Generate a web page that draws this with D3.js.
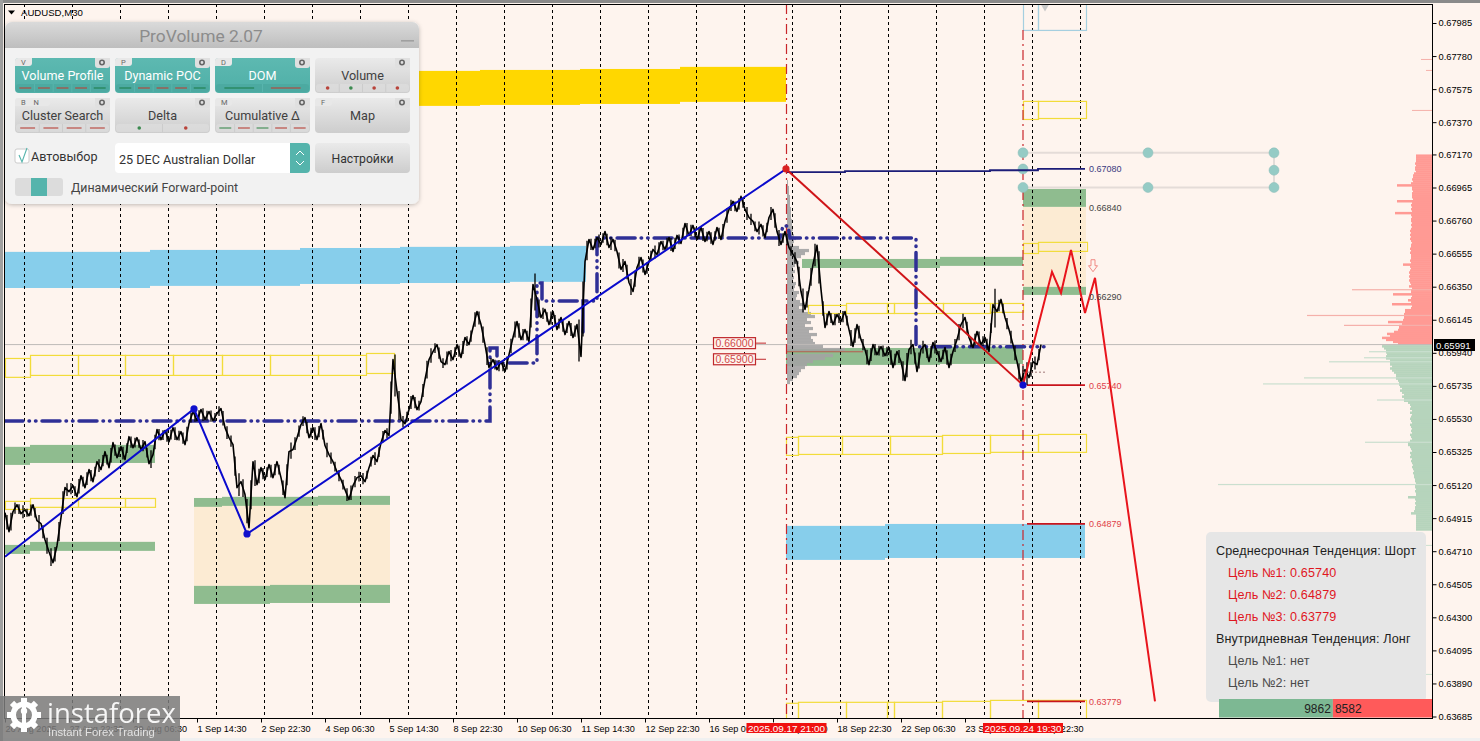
<!DOCTYPE html>
<html><head><meta charset="utf-8">
<script src="https://cdn.jsdelivr.net/npm/d3@7"></script>
<style>html,body{margin:0;padding:0;background:#FEF4EE;overflow:hidden}svg{display:block}text{font-family:"Liberation Sans",Arial,sans-serif}</style>
</head><body><div id="chart"></div>
<script>
// ---------- DATA (prices in points, 1 point = 0.00001; time in M30 bars from the left edge) ----------
const priceTicks=[0.67985,0.67780,0.67575,0.67370,0.67170,0.66965,0.66760,0.66555,0.66350,0.66145,0.65940,0.65735,0.65530,0.65325,0.65120,0.64915,0.64710,0.64505,0.64300,0.64095,0.63890,0.63685];
const timeTickLabels=["26 Aug 2025","27 Aug 22:30","29 Aug 06:30","1 Sep 14:30","2 Sep 22:30","4 Sep 06:30","5 Sep 14:30","8 Sep 22:30","10 Sep 06:30","11 Sep 14:30","12 Sep 22:30","16 Sep 06:30","17 Sep 14:30","18 Sep 22:30","22 Sep 06:30","23 Sep 14:30","24 Sep 22:30"];
const currentPrice=65991;
const closeEvery4Bars=[64949,64831,64955,64998,64943,64967,64930,64998,64899,64881,64781,64707,64639,64744,64918,65104,65079,65116,65048,65178,65104,65216,65141,65265,65216,65327,65228,65383,65290,65358,65278,65420,65352,65414,65340,65389,65253,65309,65464,65402,65458,65389,65476,65402,65451,65371,65501,65576,65520,65588,65526,65576,65520,65563,65594,65476,65414,65371,65104,65141,65061,64856,65265,65123,65228,65154,65247,65166,65265,65166,65042,65327,65340,65414,65495,65538,65414,65476,65402,65501,65365,65309,65265,65203,65154,65092,65030,65116,65166,65178,65141,65228,65303,65265,65383,65458,65427,65898,65700,65526,65501,65588,65675,65588,65638,65774,65898,65948,65991,65886,65867,65948,65898,65991,65911,66035,65991,66097,66196,66115,65991,65849,65898,65836,65886,65824,65929,66035,66134,66022,66084,66010,66364,66271,66159,66209,66115,66196,66084,66159,66053,66134,66035,66115,65917,66506,66643,66581,66655,66612,66692,66593,66643,66568,66457,66506,66376,66320,66469,66531,66426,66506,66581,66550,66630,66581,66655,66568,66668,66618,66742,66668,66730,66643,66717,66630,66692,66612,66717,66643,66755,66829,66879,66817,66910,66829,66779,66755,66692,66736,66655,66779,66829,66692,66612,66692,66593,66550,66506,66320,66209,66333,66488,66606,66333,66097,66196,66115,66177,66134,66196,66084,65979,66115,66022,65960,65867,65991,65929,65979,65923,65973,65849,65948,65886,65768,65960,65991,65824,65960,65991,65886,66004,65948,65886,65973,65849,65948,66022,66115,66159,66035,65973,66072,65991,66035,65948,66239,66196,66271,66159,66084,65991,65886,65762,65836,65786,65886,65867,65991];
const swingSpanEvery4Bars=[90,110,70,60,80,50,70,60,90,80,100,110,90,120,140,80,70,60,90,60,80,70,60,80,70,60,90,70,60,80,60,70,60,50,70,60,110,90,70,60,70,60,80,60,70,90,60,70,60,80,60,70,50,60,90,80,70,120,140,110,150,180,160,90,70,60,80,70,60,90,130,100,80,70,60,70,60,80,70,60,90,70,60,70,60,80,90,70,60,70,50,60,80,60,70,60,200,260,180,70,60,80,70,60,80,110,90,60,70,60,80,70,60,70,80,60,70,90,80,100,110,70,60,70,60,80,90,100,90,70,60,180,230,110,70,60,80,70,60,70,60,80,70,260,340,120,70,60,80,60,70,80,70,100,80,90,100,90,70,80,70,60,80,70,60,70,80,70,60,70,80,70,60,70,80,60,70,60,70,80,90,70,60,70,60,80,70,60,80,70,60,80,90,100,60,70,60,70,120,150,100,110,140,200,90,70,60,70,60,70,60,100,90,80,70,90,80,70,60,70,60,90,70,80,120,150,90,70,100,80,60,70,80,70,60,90,70,80,100,90,70,60,70,80,60,70,60,240,70,60,70,80,90,100,120,140,90,80,70,60,120];
const zonesGold=[[410,475,67688,67471],[475,575,67694,67477],[575,675,67700,67483],[675,781,67713,67496]];
const zonesSky=[[0,145,66566,66342],[145,295,66578,66355],[295,395,66590,66367],[395,505,66597,66373],[505,581,66603,66380],[781,880,64867,64656],[880,1080,64879,64668]];
const zonesTan=[[189,385,64997,64495],[1018,1081,66845,66349]];
const zonesGreen=[[0,25,65357,65245],[25,150,65369,65257],[0,25,64749,64693],[25,150,64768,64712],[189,217,65040,64985],[217,313,65047,64991],[313,385,65053,64997],[189,265,64495,64383],[265,385,64501,64389],[797,935,66522,66466],[935,1018,66535,66479],[781,835,65964,65859],[835,935,65970,65865],[935,1018,65977,65871],[1018,1081,66956,66845],[1018,1081,66349,66299]];
const boxesYellow=[[0,25,65908,65791],[25,73,65927,65803],[73,120,65927,65803],[120,168,65927,65803],[168,217,65927,65803],[217,265,65927,65803],[265,313,65927,65803],[313,361,65927,65803],[361,389,65939,65815],[0,25,65022,64972],[25,73,65040,64985],[73,120,65040,64985],[120,150,65040,64985],[803,841,66237,66187],[841,882,66249,66187],[882,889,66249,66187],[889,938,66249,66187],[938,985,66249,66187],[985,1018,66249,66194],[781,793,65419,65307],[793,837,65425,65313],[837,885,65425,65313],[885,937,65425,65313],[937,985,65431,65319],[985,1033,65431,65326],[1033,1081,65437,65326],[781,793,63770,63500],[793,841,63776,63500],[841,882,63776,63500],[882,889,63776,63500],[889,937,63776,63500],[937,985,63782,63500],[985,1033,63788,63500],[1033,1081,63788,63500],[1018,1033,67502,67390],[1033,1081,67502,67396],[1018,1033,66621,66559],[1033,1082,66628,66572]];
const boxesBlue=[[1018,1033,68200,67942],[1033,1081,68200,67942]];
const pocPath=[[0,65518],[485,65518],[485,65970],[492,65970],[492,65877],[532,65877],[532,66373],[537,66373],[537,66262],[578,66262],[578,66063],[578,66262],[592,66262],[592,66652],[775,66652],[778,66727],[783,66727],[785,66652],[911,66652],[911,65977],[1039,65977]];
const bullSwing=[[0,64675],[189,65592],[242,64817],[781,67080]];
const bearSwing=[[781,67080],[1018,65740]];
const forecast=[[1018,65740],[1047,66442],[1056,66311],[1066,66578],[1080,66187],[1090,66405],[1150,63779]];
const navyTarget=[[782,67060],[840,67066],[985,67072],[1033,67080],[1080,67080]];
const redTargets=[65740,64879,63779];
const greyLevelLabels=[[66840,"0.66840"],[66290,"0.66290"]];
const fanLevels=[67180,67080,66965];
const fanBars=[1018,1143,1269];
const sessionProfile=[1,1,2,2,2,3,3,3,3,4,4,4,4,5,5,5,6,5,7,9,7,6,12,22,18,14,10,12,8,6,8,6,7,6,9,8,7,12,10,9,13,16,12,17,24,28,20,24,18,26,22,30,24,26,28,36,58,76,46,38,26,20,18,14,12,10,6,3];
const sellProfile=[16,16,16,16,17,16,17,17,16,18,19,19,20,19,21,35,20,20,19,20,20,20,19,35,20,21,20,21,20,37,21,20,21,21,20,21,20,21,22,21,22,21,22,21,20,21,21,22,21,22,21,21,21,22,21,29,22,21,22,23,22,23,22,23,22,21,23,20,80,21,39,20,21,24,21,40,20,21,27,27,28,125,28,29,44,30,88,33,34,38,45,42,50,46,39,34];
const buyProfile=[50,48,46,63,45,46,68,42,103,42,40,42,40,38,36,36,128,34,33,169,32,30,32,30,28,30,28,55,24,22,21,22,20,22,20,21,22,21,20,22,21,20,21,20,22,21,20,22,67,24,22,21,20,22,21,22,20,21,20,19,20,19,18,19,18,18,17,17,16,214,17,16,17,16,16,24,17,16,17,16,17,17,18,21,16,16,16,16,16,16,16,16];
const strayProfile=[[67762,11,"s"],[67694,6,"s"],[67446,20,"s"],[64749,6,"b"],[63949,8,"b"]];
const buyTotal=9862, sellTotal=8582;
const infoRows=[["Среднесрочная Тенденция: Шорт",0],["Цель №1: 0.65740",1],["Цель №2: 0.64879",1],["Цель №3: 0.63779",1],["Внутридневная Тенденция: Лонг",0],["Цель №1: нет",2],["Цель №2: нет",2]];
const panelButtons=[
 ["Volume Profile",1,"V","lllll","rrrrg"],["Dynamic POC",1,"P","lllll","grrrg"],["DOM",1,"D","ll","gr"],["Volume",0,"","dddd","rgrr"],
 ["Cluster Search",0,"B N","llll","rrrr"],["Delta",0,"","dd","gr"],["Cumulative Δ",0,"M","lllll","grgrr"],["Map",0,"F","",""]];

// ---------- SCALES ----------
const W=1480,H=741;
const L=4,R=1432,T=4,B=718;
const x=d3.scaleLinear().domain([0,1427]).range([5,1432]);
const y=d3.scaleLinear().domain([67985,63685]).range([23,716.5]);
const BG="#FEF4EE";
const svg=d3.select("#chart").append("svg").attr("width",W).attr("height",H);
const defs=svg.append("defs");
defs.append("clipPath").attr("id","plot").append("rect").attr("x",L).attr("y",T).attr("width",R-L).attr("height",B-T);
function grad(id,a,b){const g=defs.append("linearGradient").attr("id",id).attr("x1",0).attr("x2",0).attr("y1",0).attr("y2",1);g.append("stop").attr("offset",0).attr("stop-color",a);g.append("stop").attr("offset",1).attr("stop-color",b);}
grad("gHead","#DADADA","#BEBEBE");grad("gBtn","#EAEAEA","#CDCDCD");grad("gTeal","#5DB9B1","#4FAFA7");
const shadow=defs.append("filter").attr("id","sh").attr("x","-5%").attr("y","-5%").attr("width","110%").attr("height","112%");
shadow.append("feDropShadow").attr("dx",0).attr("dy",1).attr("stdDeviation",2).attr("flood-color","#000").attr("flood-opacity",.25);

svg.append("rect").attr("width",W).attr("height",H).attr("fill",BG);
svg.append("rect").attr("y",738).attr("width",W).attr("height",3).attr("fill","#F0F0F0");
svg.append("rect").attr("width",W).attr("height",3).attr("fill","#8A8A8A");
svg.append("rect").attr("width",3).attr("height",H).attr("fill","#A0A0A0");

const plot=svg.append("g").attr("clip-path","url(#plot)");
function zones(data,fill){plot.append("g").selectAll("rect").data(data).join("rect")
 .attr("x",d=>x(d[0])).attr("width",d=>x(d[1])-x(d[0])).attr("y",d=>y(d[2])).attr("height",d=>y(d[3])-y(d[2])).attr("fill",fill);}
function boxes(data,stroke){plot.append("g").selectAll("rect").data(data).join("rect")
 .attr("x",d=>x(d[0])+.5).attr("width",d=>x(d[1])-x(d[0])).attr("y",d=>y(d[2])+.5).attr("height",d=>y(d[3])-y(d[2])).attr("fill","none").attr("stroke",stroke).attr("stroke-width",1.2);}
zones(zonesTan,"#FCEBD3");zones(zonesGold,"#FFD700");zones(zonesSky,"#87CEEB");zones(zonesGreen,"#8FBC8F");

// right-hand market profile
const pw=d3.scaleLinear().domain([0,214]).range([0,214]);
const sellBand=d3.scaleLinear().domain([0,sellProfile.length]).range([y(67170),y(currentPrice)]);
const buyBand=d3.scaleLinear().domain([0,buyProfile.length]).range([y(currentPrice)+.5,y(64840)]);
function profile(data,band,spike,baseCol,spikeCol){
 plot.append("g").selectAll("rect").data(data).join("rect").attr("x",d=>R-pw(d>spike?Math.min(...data):d)).attr("width",d=>pw(d>spike?Math.min(...data):d))
  .attr("y",(d,i)=>band(i)).attr("height",band(1)-band(0)+.4).attr("fill",baseCol).attr("shape-rendering","crispEdges");
 plot.append("g").selectAll("rect").data(data.filter(d=>d>spike)).join("rect").attr("x",d=>R-pw(d)).attr("width",d=>pw(d))
  .attr("y",d=>band(data.indexOf(d))).attr("height",1.2).attr("fill",spikeCol);
}
// spike rows keep a solid base from their neighbours
const sellSolid=sellProfile.map((d,i,a)=>d>52?Math.max(a[i-1]||0,a[i+1]||0):d);
const buySolid=buyProfile.map((d,i,a)=>d>52?Math.max(a[i-1]||0,a[i+1]||0):d);
plot.append("g").selectAll("rect").data(sellSolid).join("rect").attr("x",d=>R-pw(d)).attr("width",d=>pw(d)).attr("y",(d,i)=>sellBand(i)).attr("height",sellBand(1)-sellBand(0)+.5).attr("fill","#FF9A94");
plot.append("g").selectAll("rect").data(buySolid).join("rect").attr("x",d=>R-pw(d)).attr("width",d=>pw(d)).attr("y",(d,i)=>buyBand(i)).attr("height",buyBand(1)-buyBand(0)+.5).attr("fill","#B6D4BC");
plot.append("g").selectAll("rect").data(sellProfile.map((d,i)=>[d,i]).filter(d=>d[0]>52)).join("rect").attr("x",d=>R-pw(d[0])).attr("width",d=>pw(d[0])).attr("y",d=>sellBand(d[1])).attr("height",1.2).attr("fill","#F5B0AA");
plot.append("g").selectAll("rect").data(buyProfile.map((d,i)=>[d,i]).filter(d=>d[0]>52)).join("rect").attr("x",d=>R-pw(d[0])).attr("width",d=>pw(d[0])).attr("y",d=>buyBand(d[1])).attr("height",1.2).attr("fill","#CADFCF");
plot.append("g").selectAll("rect").data(strayProfile).join("rect").attr("x",d=>R-pw(d[1])).attr("width",d=>pw(d[1]))
 .attr("y",d=>y(d[0])).attr("height",1).attr("fill",d=>d[2]=="s"?"#F5B0AA":"#CADFCF");

// session profile (grey)
const sessBand=d3.scaleLinear().domain([0,sessionProfile.length]).range([y(67012),y(65747)]);
plot.append("g").selectAll("rect").data(sessionProfile).join("rect").attr("x",x(782)).attr("width",d=>pw(d))
 .attr("y",(d,i)=>sessBand(i)).attr("height",d=>d==76?1.4:sessBand(1)-sessBand(0)+.2).attr("fill",d=>d==76?"#B06A5A":"#A3A3A3").attr("opacity",.9);

// day separators
const seps=d3.range(19,1076,48);
plot.append("g").selectAll("line").data(seps).join("line").attr("x1",d=>x(d)+.5).attr("x2",d=>x(d)+.5).attr("y1",T).attr("y2",B)
 .attr("stroke","#000").attr("stroke-width",1).attr("stroke-dasharray","3 3");
boxes(boxesYellow,"#F2DC3A");boxes(boxesBlue,"#A5CFE0");
// current price line
plot.append("line").attr("x1",L).attr("x2",R).attr("y1",y(currentPrice)).attr("y2",y(currentPrice)).attr("stroke","#BEBAB8").attr("stroke-width",1);
// red vertical markers
plot.append("g").selectAll("line").data([[781.5,T],[1018,T+26]]).join("line").attr("x1",d=>x(d[0])).attr("x2",d=>x(d[0])).attr("y1",d=>d[1]).attr("y2",B)
 .attr("stroke","#C8252B").attr("stroke-width",1.2).attr("stroke-dasharray","10 4 2 4");
// POC
const ln=d3.line().x(d=>x(d[0])).y(d=>y(d[1]));
plot.append("path").attr("d",ln(pocPath)).attr("fill","none").attr("stroke","#2F2F96").attr("stroke-width",3.5).attr("stroke-linecap","round").attr("stroke-dasharray","18 6 .5 6 .5 6");
// grey fan tool
const fan=plot.append("g");
[fanLevels[0],fanLevels[2]].forEach(p=>fan.append("line").attr("x1",x(fanBars[0])).attr("x2",x(fanBars[2])).attr("y1",y(p)).attr("y2",y(p)).attr("stroke","#E4DCD8").attr("stroke-width",2));
fan.append("line").attr("x1",x(fanBars[2])).attr("x2",x(fanBars[2])).attr("y1",y(fanLevels[0])).attr("y2",y(fanLevels[2])).attr("stroke","#D8D4D0").attr("stroke-width",1.5);
// target lines
plot.append("path").attr("d",ln.curve(d3.curveStepAfter)(navyTarget)).attr("fill","none").attr("stroke","#1C1C78").attr("stroke-width",1.8);
ln.curve(d3.curveLinear);
plot.append("g").selectAll("line").data(redTargets).join("line").attr("x1",x(1022)).attr("x2",x(1080)).attr("y1",d=>y(d)).attr("y2",d=>y(d)).attr("stroke","#C8141C").attr("stroke-width",1.8);
const fanPts=[];fanBars.forEach(b=>[fanLevels[0],fanLevels[2]].forEach(p=>fanPts.push([b,p])));fanPts.push([1018,fanLevels[1]],[1269,fanLevels[1]-8]);
fan.selectAll("circle").data(fanPts).join("circle").attr("cx",d=>x(d[0])).attr("cy",d=>y(d[1])).attr("r",5).attr("fill","#95CBC5").attr("stroke","#8ABDB8").attr("stroke-width",.5);
// price
plot.append("g").selectAll("line").data(swingSpanEvery4Bars.slice(0,closeEvery4Bars.length-1)).join("line")
 .attr("x1",(d,i)=>x(i*4+2)).attr("x2",(d,i)=>x(i*4+2))
 .attr("y1",(d,i)=>y((closeEvery4Bars[i]+closeEvery4Bars[i+1])/2+d/2)).attr("y2",(d,i)=>y((closeEvery4Bars[i]+closeEvery4Bars[i+1])/2-d/2))
 .attr("stroke","#000").attr("stroke-width",1.3);
plot.append("path").attr("d",d3.line().x((d,i)=>x(i*4)).y(d=>y(d))(closeEvery4Bars)).attr("fill","none").attr("stroke","#000").attr("stroke-width",1.6).attr("stroke-linejoin","round");
plot.append("line").attr("x1",x(1018)).attr("x2",x(1040)).attr("y1",y(65820)).attr("y2",y(65820)).attr("stroke","#A07878").attr("stroke-width",1).attr("stroke-dasharray","2 2");
// swings
plot.append("path").attr("d",ln(bullSwing)).attr("fill","none").attr("stroke","#0A0ACD").attr("stroke-width",2);
plot.append("path").attr("d",ln(bearSwing)).attr("fill","none").attr("stroke","#CF1418").attr("stroke-width",2);
plot.append("path").attr("d",ln(forecast)).attr("fill","none").attr("stroke","#E8141C").attr("stroke-width",2);
plot.append("g").selectAll("circle").data(bullSwing.slice(1,3).concat([bearSwing[1]])).join("circle").attr("cx",d=>x(d[0])).attr("cy",d=>y(d[1])).attr("r",3.6).attr("fill","#1010CC");
plot.append("circle").attr("cx",x(bullSwing[3][0])).attr("cy",y(bullSwing[3][1])).attr("r",3.6).attr("fill","#D82020");
// hollow arrow
const ax=x(1088),ay=y(66480);
plot.append("path").attr("d",`M${ax-2},${ay-6}h4v6h2.5l-4.5,6l-4.5,-6h2.5z`).attr("fill",BG).attr("stroke","#F08A84").attr("stroke-width",1);
// grey triangle at the top
plot.append("path").attr("d",d3.symbol().type(d3.symbolTriangle).size(40)()).attr("transform",`translate(${x(1040)},6) rotate(180)`).attr("fill","#C8C8C8");
// small level labels
const lab=svg.append("g").style("font-size","9px");
lab.append("text").attr("x",x(1084)).attr("y",y(67080)+3).attr("fill","#3A3A80").text("0.67080");
lab.selectAll(".g").data(greyLevelLabels).join("text").attr("x",x(1084)).attr("y",d=>y(d[0])+3.5).attr("fill","#444").text(d=>d[1]);
lab.selectAll(".r").data(redTargets).join("text").attr("x",x(1084)).attr("y",d=>y(d)+3.5).attr("fill","#E04048").text(d=>d3.format(".5f")(d/1e5));
// 0.66000 / 0.65900 tags
const tags=svg.append("g");
[66000,65900].forEach(p=>{const c=y(p);
 tags.append("rect").attr("x",713.5).attr("y",c-5.5).attr("width",42).attr("height",11).attr("fill",BG).attr("stroke","#C0282C").attr("stroke-width",1.2);
 tags.append("text").attr("x",734.5).attr("y",c+4).attr("text-anchor","middle").attr("fill","#D04A4A").style("font-size","10.5px").text(d3.format(".5f")(p/1e5));
 tags.append("line").attr("x1",756).attr("x2",766).attr("y1",c).attr("y2",c).attr("stroke","#C0282C").attr("stroke-width",1);});

// frame + axes
svg.append("rect").attr("x",L+.5).attr("y",T+.5).attr("width",R-L).attr("height",B-T).attr("fill","none").attr("stroke","#000");
const axR=svg.append("g").attr("transform",`translate(${R+.5},0)`).call(d3.axisRight(y).tickValues(priceTicks.map(d=>d*1e5)).tickFormat(d=>d3.format(".5f")(d/1e5)).tickSize(4).tickPadding(2));
axR.select(".domain").remove();
axR.selectAll("text").attr("fill","#000").style("font-size","9.3px").style("font-family",'"Liberation Sans"');
axR.selectAll("line").attr("stroke","#000");
const axB=svg.append("g").attr("transform",`translate(0,${B+.5})`).call(d3.axisBottom(x).tickValues(timeTickLabels.map((d,i)=>i*64)).tickFormat((d,i)=>timeTickLabels[i]).tickSize(4).tickPadding(3));
axB.select(".domain").remove();
axB.selectAll("text").attr("text-anchor","start").attr("fill","#000").style("font-size","9.1px").style("font-family",'"Liberation Sans"');
axB.selectAll("line").attr("stroke","#000");
// date labels
[[781.5,"2025.09.17 21:00"],[1018,"2025.09.24 19:30"]].forEach(d=>{const cx=x(d[0]);
 svg.append("rect").attr("x",cx-40).attr("y",723).attr("width",80).attr("height",10).attr("fill","#F01010");
 svg.append("text").attr("x",cx).attr("y",731.5).attr("text-anchor","middle").attr("fill","#fff").style("font-size","9.9px").text(d[1]);});
// current price tag
svg.append("rect").attr("x",1434).attr("y",339).attr("width",41).attr("height",12).attr("fill","#000");
svg.append("text").attr("x",1436).attr("y",348.5).attr("fill","#fff").style("font-size","9.6px").text(d3.format(".5f")(currentPrice/1e5));
// symbol title
svg.append("path").attr("d","M8,10.5h7l-3.5,4z").attr("fill","#000");
svg.append("text").attr("x",21).attr("y",16).attr("fill","#000").style("font-size","9.6px").text("AUDUSD,M30");

// info panel
const info=svg.append("g");
info.append("rect").attr("x",1206).attr("y",532).attr("width",220).attr("height",170).attr("rx",5).attr("fill","#E6E6E6");
info.selectAll("text").data(infoRows).join("text").attr("x",d=>d[1]?1228:1216).attr("y",(d,i)=>555+i*22)
 .attr("fill",d=>d[1]==1?"#E0161E":d[1]==2?"#4A4A4A":"#1E1E1E").style("font-size","12.6px").style("letter-spacing",".13px").text(d=>d[0]);
// totals bar
const tot=d3.scaleLinear().domain([0,buyTotal+sellTotal]).range([1219,1432]);
svg.append("rect").attr("x",tot(0)).attr("y",699).attr("width",tot(buyTotal)-tot(0)).attr("height",18.5).attr("fill","#7DB893");
svg.append("rect").attr("x",tot(buyTotal)).attr("y",699).attr("width",tot(buyTotal+sellTotal)-tot(buyTotal)).attr("height",18.5).attr("fill","#FF5A5A");
svg.append("text").attr("x",tot(buyTotal)-2).attr("y",713).attr("text-anchor","end").attr("fill","#222").style("font-size","12px").text(buyTotal);
svg.append("text").attr("x",tot(buyTotal)+2).attr("y",713).attr("fill","#222").style("font-size","12px").text(sellTotal);

// ProVolume panel
const P=svg.append("g");
const pf=t=>t.style("font-family",'Roboto,"Liberation Sans"');
P.append("rect").attr("x",5).attr("y",22).attr("width",414).attr("height",182).attr("rx",7).attr("fill","#F2F2F2").attr("filter","url(#sh)");
P.append("path").attr("d","M5,48V29a7,7 0 0 1 7,-7H412a7,7 0 0 1 7,7V48z").attr("fill","url(#gHead)");
pf(P.append("text").attr("x",201).attr("y",42).attr("text-anchor","middle").attr("fill","#8C8C8C").style("font-size","17.4px").text("ProVolume 2.07"));
P.append("rect").attr("x",401).attr("y",40).attr("width",13).attr("height",1.6).attr("fill","#A0A0A0");
panelButtons.forEach((b,i)=>{
 const bx=15+(i%4)*100, by=58+Math.floor(i/4)*40, g=P.append("g");
 g.append("rect").attr("x",bx).attr("y",by).attr("width",95).attr("height",35).attr("rx",4).attr("fill",b[1]?"url(#gTeal)":"url(#gBtn)");
 g.append("path").attr("d",`M${bx+80},${by}h15v7a3,3 0 0 1 -3,3h-9a3,3 0 0 1 -3,-3z`).attr("fill","#E0E0E0");
 g.append("circle").attr("cx",bx+87).attr("cy",by+4.5).attr("r",2.2).attr("fill","none").attr("stroke","#666").attr("stroke-width",1.6);
 if(b[2]){const tw=b[2].length>1?35:17;
  g.append("path").attr("d",`M${bx},${by+3}a3,3 0 0 1 3,-3h${tw-3}v5a3,3 0 0 1 -3,3h-${tw-3}z`).attr("fill","#E8E8E8");
  pf(g.append("text").attr("x",bx+6).attr("y",by+7).attr("fill","#666").style("font-size","7.5px").style("word-spacing","6px").text(b[2]));}
 pf(g.append("text").attr("x",bx+47.5).attr("y",by+22).attr("text-anchor","middle").attr("fill",b[1]?"#fff":"#404040").style("font-size","12.6px").text(b[0]));
 const n=b[3].length;
 if(n){ g.append("rect").attr("x",bx+1).attr("y",by+26).attr("width",93).attr("height",8).attr("rx",3).attr("fill",b[1]?"#4AA69E":"#DEDEDE").attr("opacity",.7);
  const cw=93/n;
  for(let k=0;k<n;k++){const cx=bx+1+cw*(k+.5),col=b[4][k]=="g"?(b[1]?"#1E7F4E":"#3C8A50"):"#B8433A";
   if(b[3][k]=="l") g.append("line").attr("x1",cx-cw*.32).attr("x2",cx+cw*.32).attr("y1",by+30).attr("y2",by+30).attr("stroke",col).attr("stroke-width",1.1);
   else g.append("circle").attr("cx",cx).attr("cy",by+30).attr("r",1.8).attr("fill",col);
   if(k) g.append("line").attr("x1",bx+1+cw*k).attr("x2",bx+1+cw*k).attr("y1",by+26).attr("y2",by+34).attr("stroke",b[1]?"#5DB9B1":"#C6C6C6").attr("stroke-width",.7);
  }}
});
P.append("rect").attr("x",15).attr("y",149).attr("width",14).attr("height",14).attr("rx",2).attr("fill","#fff").attr("stroke","#CCC");
P.append("path").attr("d","M19,155l3,7l5,-14").attr("fill","none").attr("stroke","#55B4AC").attr("stroke-width",1.1);
pf(P.append("text").attr("x",31).attr("y",161).attr("fill","#333").style("font-size","12.6px").text("Автовыбор"));
P.append("rect").attr("x",115).attr("y",143).attr("width",195).attr("height",30).attr("rx",4).attr("fill","#fff");
P.append("path").attr("d","M290,143h16a4,4 0 0 1 4,4v22a4,4 0 0 1 -4,4h-16z").attr("fill","#55B4AC");
P.append("path").attr("d","M296,155l4,-4l4,4M296,161l4,4l4,-4").attr("fill","none").attr("stroke","#fff").attr("stroke-width",1);
pf(P.append("text").attr("x",119).attr("y",163.5).attr("fill","#333").style("font-size","12.6px").text("25 DEC Australian Dollar"));
P.append("rect").attr("x",315).attr("y",143).attr("width",95).attr("height",30).attr("rx",4).attr("fill","url(#gBtn)");
pf(P.append("text").attr("x",362.5).attr("y",163).attr("text-anchor","middle").attr("fill","#333").style("font-size","12.2px").text("Настройки"));
P.append("rect").attr("x",15).attr("y",178).attr("width",48).attr("height",18).attr("rx",3).attr("fill","#DCDCDC");
P.append("rect").attr("x",31).attr("y",178).attr("width",16).attr("height",18).attr("fill","#55B4AC");
pf(P.append("text").attr("x",71).attr("y",192).attr("fill","#444").style("font-size","12.4px").text("Динамический Forward-point"));

// watermark
const wm=svg.append("g");
wm.append("rect").attr("x",0).attr("y",696).attr("width",180).attr("height",45).attr("fill","#7C7C7C").attr("opacity",.86);
const gear=wm.append("g").attr("transform","translate(24,715)");
d3.range(8).forEach(k=>gear.append("rect").attr("x",-3).attr("y",-17).attr("width",6).attr("height",6).attr("fill","#fff").attr("transform",`rotate(${k*45})`));
gear.append("path").attr("d",d3.arc()({innerRadius:8,outerRadius:13.5,startAngle:0,endAngle:2*Math.PI})).attr("fill","#fff");
gear.append("rect").attr("x",-2).attr("y",-9).attr("width",4).attr("height",23).attr("fill","#fff");
gear.append("circle").attr("cy",-4).attr("r",3.2).attr("fill","#fff");
wm.append("text").attr("x",47).attr("y",723).attr("fill","#fff").attr("opacity",.92).style("font-family",'"Open Sans"').style("font-size","27.5px").text("instaforex");
wm.append("text").attr("x",48).attr("y",736).attr("fill","#fff").attr("opacity",.75).style("font-size","11.3px").text("Instant Forex Trading");
</script></body></html>
